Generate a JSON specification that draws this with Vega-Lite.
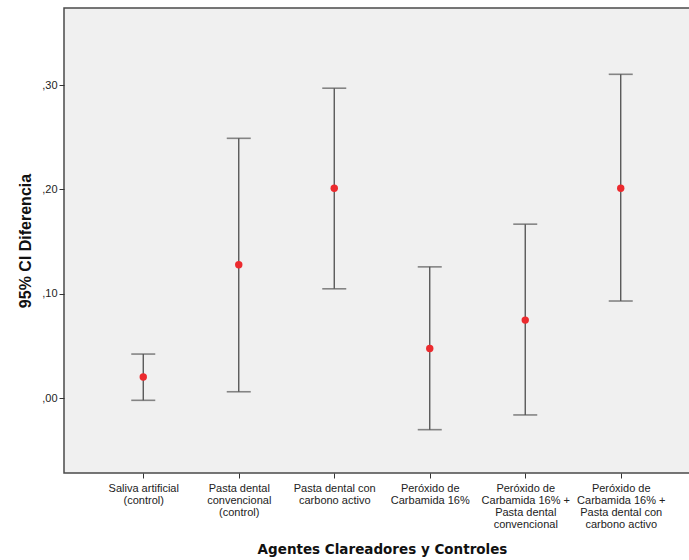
{
  "$schema": "https://vega.github.io/schema/vega-lite/v6.json",
  "autosize": "none",
  "padding": {"left": 64, "top": 8, "right": 0, "bottom": 87},
  "width": 636,
  "height": 465,
  "background": "#ffffff",
  "config": {
    "view": {"fill": "#f0f0f0", "stroke": "#4a4a4a", "strokeWidth": 1.5},
    "axis": {"grid": false, "labelFont": "Liberation Sans", "labelFontSize": 11, "labelColor": "#222", "tickColor": "#333", "domain": false, "tickSize": 5}
  },
  "data": {
    "values": [
      {"grupo": "Saliva artificial\n(control)", "orden": 1, "media": 0.0204, "inferior": -0.0019, "superior": 0.0424},
      {"grupo": "Pasta dental\nconvencional\n(control)", "orden": 2, "media": 0.1279, "inferior": 0.0063, "superior": 0.249},
      {"grupo": "Pasta dental con\ncarbono activo", "orden": 3, "media": 0.2012, "inferior": 0.1049, "superior": 0.297},
      {"grupo": "Peróxido de\nCarbamida 16%", "orden": 4, "media": 0.0478, "inferior": -0.030, "superior": 0.1259},
      {"grupo": "Peróxido de\nCarbamida 16% +\nPasta dental\nconvencional", "orden": 5, "media": 0.0749, "inferior": -0.0159, "superior": 0.1668},
      {"grupo": "Peróxido de\nCarbamida 16% +\nPasta dental con\ncarbono activo", "orden": 6, "media": 0.2012, "inferior": 0.0932, "superior": 0.3103}
    ]
  },
  "encoding": {
    "x": {
      "field": "grupo", "type": "nominal", "sort": {"field": "orden"},
      "scale": {"type": "point", "padding": 0.83},
      "axis": {
        "title": "Agentes Clareadores y Controles",
        "titleFont": "DejaVu Sans", "titleFontSize": 13.5, "titleFontWeight": "bold", "titleColor": "#111",
        "titlePadding": 13,
        "labelAngle": 0, "labelExpr": "split(datum.label, '\\n')", "labelLineHeight": 12, "labelPadding": 4
      }
    }
  },
  "layer": [
    {
      "mark": {"type": "rule", "color": "#4d4d4d", "strokeWidth": 1.3},
      "encoding": {
        "y": {"field": "inferior", "type": "quantitative", "scale": {"domain": [-0.0715, 0.3738], "nice": false, "zero": false},
          "axis": {"title": "95% CI Diferencia", "titleFont": "Liberation Sans", "titleFontSize": 16, "titleFontWeight": "bold", "titleColor": "#111", "titlePadding": 8,
            "values": [0, 0.1, 0.2, 0.3], "labelExpr": "replace(format(datum.value, '.2f'), '0.', ',')"}},
        "y2": {"field": "superior"}
      }
    },
    {
      "mark": {"type": "tick", "color": "#555", "size": 24, "thickness": 1.6},
      "encoding": {"y": {"field": "inferior", "type": "quantitative"}}
    },
    {
      "mark": {"type": "tick", "color": "#555", "size": 24, "thickness": 1.6},
      "encoding": {"y": {"field": "superior", "type": "quantitative"}}
    },
    {
      "mark": {"type": "point", "filled": true, "color": "#ec2a2e", "size": 55, "opacity": 1},
      "encoding": {"y": {"field": "media", "type": "quantitative"}}
    }
  ]
}
